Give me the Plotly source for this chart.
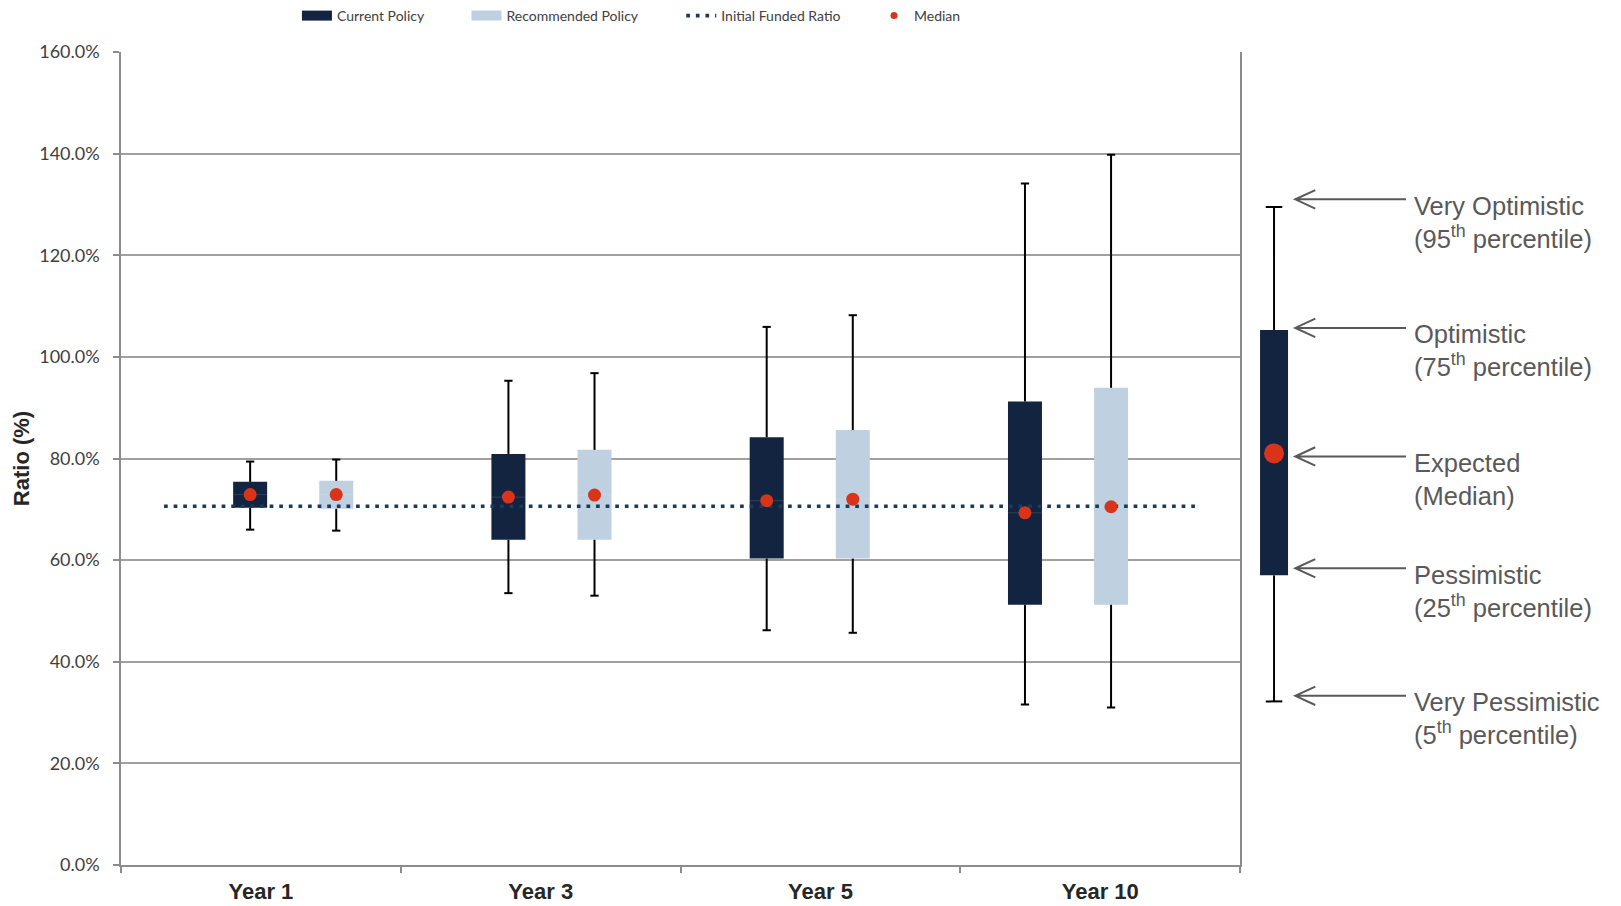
import plotly.graph_objects as go

# ---------------- data (percent) ----------------
categories = ["Year 1", "Year 3", "Year 5", "Year 10"]

current_p5 = [66.0, 53.5, 46.2, 31.6]
current_p25 = [70.3, 64.0, 60.3, 51.2]
current_p50 = [72.9, 72.4, 71.7, 69.3]
current_p75 = [75.4, 80.9, 84.2, 91.2]
current_p95 = [79.4, 95.3, 105.9, 134.1]

recommended_p5 = [65.8, 53.0, 45.7, 31.0]
recommended_p25 = [70.1, 64.0, 60.3, 51.2]
recommended_p50 = [72.9, 72.8, 72.0, 70.5]
recommended_p75 = [75.6, 81.7, 85.6, 93.9]
recommended_p95 = [79.8, 96.8, 108.2, 139.8]

initial_funded_ratio = 70.6

y_ticks = [0, 20, 40, 60, 80, 100, 120, 140, 160]
y_tick_labels = [f"{v:.1f}%" for v in y_ticks]

# schematic "how to read" box (5th, 25th, 50th, 75th, 95th)
schematic_values = [32.2, 57.0, 81.0, 105.3, 129.5]
schematic_arrow_levels = [33.3, 58.4, 80.4, 105.7, 131.0]
schematic_labels = [
    "Very Pessimistic<br>(5<sup>th</sup> percentile)",
    "Pessimistic<br>(25<sup>th</sup> percentile)",
    "Expected<br>(Median)",
    "Optimistic<br>(75<sup>th</sup> percentile)",
    "Very Optimistic<br>(95<sup>th</sup> percentile)",
]

# ---------------- style ----------------
NAVY = "#12243F"
LIGHT = "#BFD0E0"
RED = "#D9331A"
DOT = "#1A3A60"
GRID = "#A0A0A0"
AXIS = "#8C8C8C"
TXT = "#404040"
ANN = "#595959"

N = len(categories)
cur_x = [1 + 3 * i for i in range(N)]
rec_x = [2 + 3 * i for i in range(N)]
label_pos = [1.125 + 3.25 * i for i in range(N)]
boundaries = [-0.5 + 3.25 * i for i in range(N + 1)]
BOX_W = 0.395
CAP = 0.048


def whiskers(xs, lo, q1, q3, hi, cap):
    X, Y = [], []
    for x, a, b, c, d in zip(xs, lo, q1, q3, hi):
        X += [x, x, None, x, x, None, x - cap, x + cap, None, x - cap, x + cap, None]
        Y += [c, d, None, b, a, None, d, d, None, a, a, None]
    return X, Y


def median_lines(xs, med, w):
    X, Y = [], []
    for x, m in zip(xs, med):
        X += [x - w / 2, x + w / 2, None]
        Y += [m, m, None]
    return X, Y


fig = go.Figure()

# boxes (25th-75th)
fig.add_trace(go.Bar(
    x=cur_x, y=[b - a for a, b in zip(current_p25, current_p75)], base=current_p25,
    width=BOX_W, marker=dict(color=NAVY, line=dict(width=0)),
    showlegend=False, hoverinfo="skip"))
fig.add_trace(go.Bar(
    x=rec_x, y=[b - a for a, b in zip(recommended_p25, recommended_p75)], base=recommended_p25,
    width=BOX_W, marker=dict(color=LIGHT, line=dict(width=0)),
    showlegend=False, hoverinfo="skip"))

# whiskers
wx, wy = whiskers(cur_x + rec_x, current_p5 + recommended_p5, current_p25 + recommended_p25,
                  current_p75 + recommended_p75, current_p95 + recommended_p95, CAP)
fig.add_trace(go.Scatter(x=wx, y=wy, mode="lines", line=dict(color="black", width=2),
                         showlegend=False, hoverinfo="skip"))

# faint median line inside the boxes
mx, my = median_lines(cur_x + rec_x, current_p50 + recommended_p50, BOX_W)
fig.add_trace(go.Scatter(x=mx, y=my, mode="lines", line=dict(color="rgba(255,255,255,0.13)", width=1),
                         showlegend=False, hoverinfo="skip"))

# initial funded ratio
fig.add_trace(go.Scatter(
    x=[min(cur_x) - 1, max(rec_x) + 1], y=[initial_funded_ratio, initial_funded_ratio],
    mode="lines", line=dict(color=DOT, width=3.7, dash="3.7px,5.9px"),
    name="Initial Funded Ratio", legend="legend3", hoverinfo="skip"))

# medians
fig.add_trace(go.Scatter(
    x=cur_x + rec_x, y=current_p50 + recommended_p50, mode="markers",
    marker=dict(color=RED, size=13, line=dict(width=0)), showlegend=False))

# legend proxies
fig.add_trace(go.Scatter(x=[None], y=[None], mode="lines", line=dict(color=NAVY, width=10),
                         name="Current Policy", legend="legend"))
fig.add_trace(go.Scatter(x=[None], y=[None], mode="lines", line=dict(color=LIGHT, width=10),
                         name="Recommended Policy", legend="legend2"))
fig.add_trace(go.Scatter(x=[None], y=[None], mode="markers", marker=dict(color=RED, size=7),
                         name="Median", legend="legend4"))

# ---------------- schematic ----------------
S_X = 0.393
S_W = 0.325
S_CAP = 0.096
p5, p25, p50, p75, p95 = schematic_values
fig.add_trace(go.Bar(x=[S_X], y=[p75 - p25], base=[p25], width=S_W,
                     marker=dict(color=NAVY, line=dict(width=0)),
                     xaxis="x2", yaxis="y2", showlegend=False, hoverinfo="skip"))
sx, sy = whiskers([S_X], [p5], [p25], [p75], [p95], S_CAP)
fig.add_trace(go.Scatter(x=sx, y=sy, mode="lines", line=dict(color="black", width=2),
                         xaxis="x2", yaxis="y2", showlegend=False, hoverinfo="skip"))
fig.add_trace(go.Scatter(x=[S_X], y=[p50], mode="markers", marker=dict(color=RED, size=20),
                         xaxis="x2", yaxis="y2", showlegend=False, hoverinfo="skip"))

TIP, TAIL, DX, DY, TEXT_X = 0.640, 1.926, 0.232, 1.81, 1.995
shapes = []
annotations = []
for v, lab in zip(schematic_arrow_levels, schematic_labels):
    shapes.append(dict(
        type="path", xref="x2", yref="y2",
        path=f"M {TAIL},{v} L {TIP},{v} M {TIP + DX},{v + DY} L {TIP},{v} L {TIP + DX},{v - DY}",
        line=dict(color=ANN, width=2)))
    annotations.append(dict(
        xref="x2", yref="y2", x=TEXT_X, y=v, xanchor="left", yanchor="middle", yshift=-23,
        text=lab, showarrow=False, align="left",
        font=dict(family="Liberation Sans, Arial, sans-serif", size=25.5, color=ANN)))

MAIN_END = (1240.2 - 121) / 1500

legend_common = dict(orientation="h", yanchor="middle", y=1.0442, xanchor="left",
                     bgcolor="rgba(0,0,0,0)", borderwidth=0,
                     font=dict(family="Lato, Calibri, sans-serif", size=14, color=TXT))

fig.update_layout(
    width=1621, height=906,
    margin=dict(l=121, r=0, t=51, b=41),
    paper_bgcolor="white", plot_bgcolor="white",
    barmode="overlay",
    showlegend=True,
    legend=dict(legend_common, x=0.1173),
    legend2=dict(legend_common, x=0.2303),
    legend3=dict(legend_common, x=0.3735),
    legend4=dict(legend_common, x=0.5020),
    xaxis=dict(
        domain=[0, MAIN_END], range=[-0.5, 12.5],
        tickmode="array", tickvals=label_pos, ticktext=categories, ticks="",
        ticklabelstandoff=6,
        tickfont=dict(family="Liberation Sans Narrow, Arial Narrow, Liberation Sans, Arial", size=22,
                      color="#262626", weight="bold"),
        showgrid=False, zeroline=False,
        showline=True, linecolor=AXIS, linewidth=1.5,
        minor=dict(tickmode="array", tickvals=boundaries, ticks="outside", ticklen=6,
                   tickcolor=AXIS, tickwidth=1.5, showgrid=False),
    ),
    yaxis=dict(
        range=[0, 160], tickmode="array", tickvals=y_ticks, ticktext=y_tick_labels,
        ticks="outside", ticklen=6, tickcolor=AXIS, tickwidth=1.5,
        ticklabelstandoff=10,
        tickfont=dict(family="Lato, Calibri, sans-serif", size=18, color=TXT),
        showgrid=True, gridcolor=GRID, gridwidth=1.6, zeroline=False,
        showline=True, linecolor=AXIS, linewidth=1.5, mirror=True,
        title=dict(text="<b>Ratio (%)</b>", standoff=4,
                   font=dict(family="Liberation Sans, Arial, sans-serif", size=22, color="#262626")),
    ),
    xaxis2=dict(domain=[MAIN_END, 1], range=[0, 1500 * (1 - MAIN_END) / 86.1],
                visible=False, anchor="y2", fixedrange=True),
    yaxis2=dict(domain=[0, 1], range=[0, 160], visible=False, anchor="x2", fixedrange=True),
    shapes=shapes,
    annotations=annotations,
)

fig.write_html(
    "out.html",
    config={"displayModeBar": False},
    post_script="document.body.style.margin='0';document.body.style.padding='0';"
                "document.documentElement.style.overflow='hidden';",
)
